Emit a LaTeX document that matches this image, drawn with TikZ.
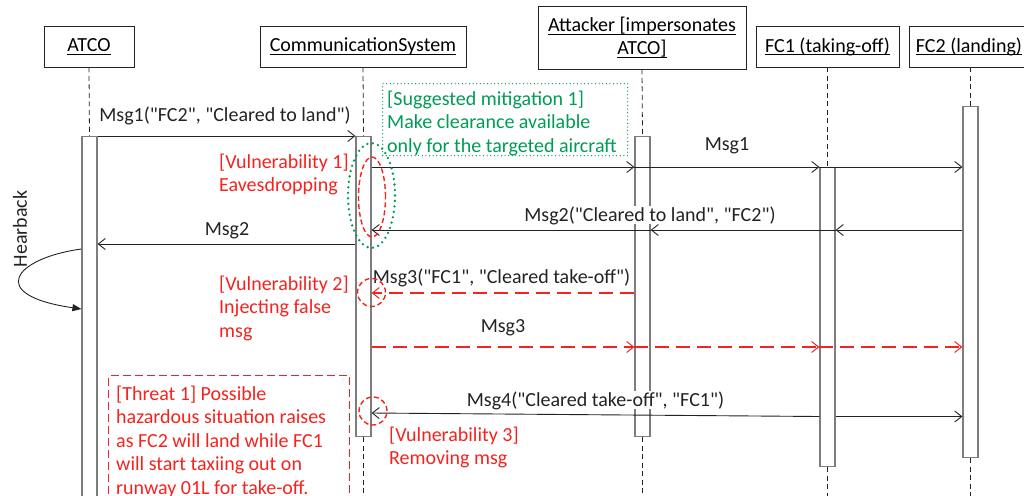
\documentclass[tikz,border=0pt]{standalone}
\usepackage{fontspec}
\setmainfont{Carlito}[Ligatures=TeXOff]
\usetikzlibrary{arrows.meta,shapes.geometric}
\definecolor{vred}{RGB}{245,35,30}
\definecolor{vgreen}{RGB}{0,155,85}
\definecolor{bargray}{RGB}{125,125,125}
\definecolor{ink}{RGB}{35,35,35}
\newcommand\fs{\fontsize{20}{23.5}\selectfont}
\newcommand\dq{\char34\relax}
\newcommand\ulx[1]{\setbox0\hbox{#1}\rlap{\rule[-3pt]{\wd0}{0.9pt}}\box0}
\newcommand\mlines[1]{\begin{tabular}[t]{@{}l@{}}#1\end{tabular}}
\begin{document}
\begin{tikzpicture}[x=1pt,y=-1pt,
  every node/.style={font=\fs, inner sep=0pt},
  header/.style={draw=ink, line width=0.9pt, fill=white, align=center},
  life/.style={draw=ink, line width=0.8pt, dash pattern=on 5pt off 3.5pt},
  bar/.style={draw=bargray, line width=1.2pt, fill=white, minimum width=15pt, anchor=north},
  msg/.style={draw=ink, line width=0.9pt, -{Straight Barb[length=7pt,width=11pt]}},
  rmsg/.style={draw=vred, line width=1.4pt, dash pattern=on 14pt off 7pt, -{Straight Barb[length=7pt,width=11pt,line width=1pt]}},
  lab/.style={anchor=base, text=ink},
  rtxt/.style={text=vred, anchor=base west},
  gtxt/.style={text=vgreen, anchor=base west},
  rring/.style={draw=vred, line width=1.4pt, dash pattern=on 5pt off 3pt},
  gdots/.style={draw=vgreen, line width=2.6pt, line cap=round, dash pattern=on 0pt off 5.5pt},
]
\useasboundingbox (0,0) rectangle (1024,495);
\clip (0,0) rectangle (1024,495);
\coordinate (bot) at (0,500);

% headers
\node[header, minimum width=90pt, minimum height=41pt] (hA) at (89,46.5) {\ulx{ATCO}};
\node[header, minimum width=206pt, minimum height=41pt] (hC) at (363,46.5) {\ulx{CommunicationSystem}};
\node[header, minimum width=208pt, minimum height=63pt] (hT) at (642,37.5) {\ulx{Attacker [impersonates}\\\ulx{ATCO]}};
\node[header, minimum width=143pt, minimum height=41pt] (hF1) at (827.5,46.5) {\ulx{FC1 (taking-off)}};
\node[header, minimum width=120pt, minimum height=41pt] (hF2) at (969,46.5) {\ulx{FC2 (landing)}};

% activation bars
\node[bar, minimum height=370pt] (bA) at (89.5,136) {};
\node[bar, minimum height=300pt] (bC) at (363.5,136) {};
\node[bar, minimum height=300pt] (bT) at (642.5,136) {};
\node[bar, minimum height=299pt] (bF1) at (827.5,167) {};
\node[bar, minimum height=351pt] (bF2) at (970.5,106) {};

% lifelines
\draw[life] (hA.south) -- (bA.north);
\draw[life] (hC.south) -- (bC.north);
\draw[life] (hT.south) -- (bT.north);
\draw[life] (hF1.south) -- (bF1.north);
\draw[life] (bF2.north |- hF2.south) -- (bF2.north);
\draw[life] (bC.south) -- (bC.south |- bot);
\draw[life] (bT.south) -- (bT.south |- bot);
\draw[life] (bF1.south) -- (bF1.south |- bot);
\draw[life] (bF2.south) -- (bF2.south |- bot);

% mitigation box
\node[draw=vgreen, line width=1.3pt, line cap=round, dash pattern=on 0pt off 3.6pt, minimum width=245pt, minimum height=72pt, anchor=north west] (mitbox) at (382,83) {};
\node[gtxt] (mit) at (387,105) {\mlines{[Suggested mitigation 1]\\Make clearance available\\only for the targeted aircraft}};

% Msg1 ATCO -> Comm
\draw[msg] (bA.east |- 0,136) -- (bC.west |- 0,136);
\node[lab] (l1) at (225,121) {Msg1(\dq FC2\dq, \dq Cleared to land\dq)};

% Msg1 Comm -> all
\draw[msg] (bC.east |- 0,167) -- (bT.west |- 0,167);
\draw[msg] (bT.west |- 0,167) -- (bF1.west |- 0,167);
\draw[msg] (bF1.west |- 0,167) -- (bF2.west |- 0,167);
\node[lab] (l2) at (727,150) {Msg1};

% Msg2 FC2 -> ...
\draw[msg] (bF2.west |- 0,230) -- (bF1.east |- 0,230);
\draw[msg] (bF1.east |- 0,230) -- (bT.east |- 0,230);
\draw[msg] (bT.east |- 0,230) -- (bC.east |- 0,230);
\node[lab, fill=white] (l3) at (650,221) {Msg2(\dq Cleared to land\dq, \dq FC2\dq)};

% Msg2 Comm -> ATCO
\draw[msg] (bC.west |- 0,244) -- (bA.east |- 0,244);
\node[lab] (l4) at (227,235) {Msg2};

% Hearback
\draw[draw=ink, line width=0.9pt, -{Triangle[length=9pt,width=7pt]}] (bA.west |- 0,249) .. controls (15,258) and (-15,295) .. (bA.west |- 0,309);
\node[rotate=90, anchor=base, text=ink] (hb) at (27,229) {Hearback};

% Msg3 attacker -> Comm
\draw[rmsg] (bT.west |- 0,293) -- (bC.east |- 0,293);
\node[lab] (l5) at (501.5,283) {Msg3(\dq FC1\dq, \dq Cleared take-off\dq)};

% Msg3 Comm -> all
\draw[rmsg] (bC.east |- 0,347) -- (bT.west |- 0,347);
\draw[rmsg] (bT.west |- 0,347) -- (bF1.west |- 0,347);
\draw[rmsg] (bF1.west |- 0,347) -- (bF2.west |- 0,347);
\node[lab] (l6) at (503,332) {Msg3};

% Msg4 FC1 -> Comm, FC2
\draw[msg] (bF1.west |- 0,416.5) -- (bC.east |- 0,413);
\draw[msg] (bF1.east |- 0,416.5) -- (bF2.west |- 0,416.5);
\node[lab, fill=white] (l7) at (595.5,406) {Msg4(\dq Cleared take-off\dq, \dq FC1\dq)};

% vulnerability marks
\node[gdots, ellipse, minimum width=47pt, minimum height=105pt] (g1) at (371.5,195.5) {};
\node[rring, ellipse, minimum width=27pt, minimum height=80pt] (e1) at (372,197) {};
\node[rring, circle, minimum size=28pt] (e2) at (371.5,292.5) {};
\node[rring, circle, minimum size=28pt] (e3) at (373,411) {};

% red texts
\node[rtxt] (v1) at (219,168) {\mlines{[Vulnerability 1]\\Eavesdropping}};
\node[rtxt] (v2) at (219,290) {\mlines{[Vulnerability 2]\\Injecting false\\msg}};
\node[rtxt] (v3) at (389,441) {\mlines{[Vulnerability 3]\\Removing msg}};

% threat box
\node[draw=vred, line width=1.4pt, dash pattern=on 8pt off 4pt, minimum width=241pt, minimum height=140pt, anchor=north west] (thbox) at (108,375) {};
\node[rtxt] (th) at (116,400) {\mlines{[Threat 1] Possible\\hazardous situation raises\\as FC2 will land while FC1\\will start taxiing out on\\runway 01L for take-off.}};
\end{tikzpicture}
\end{document}
